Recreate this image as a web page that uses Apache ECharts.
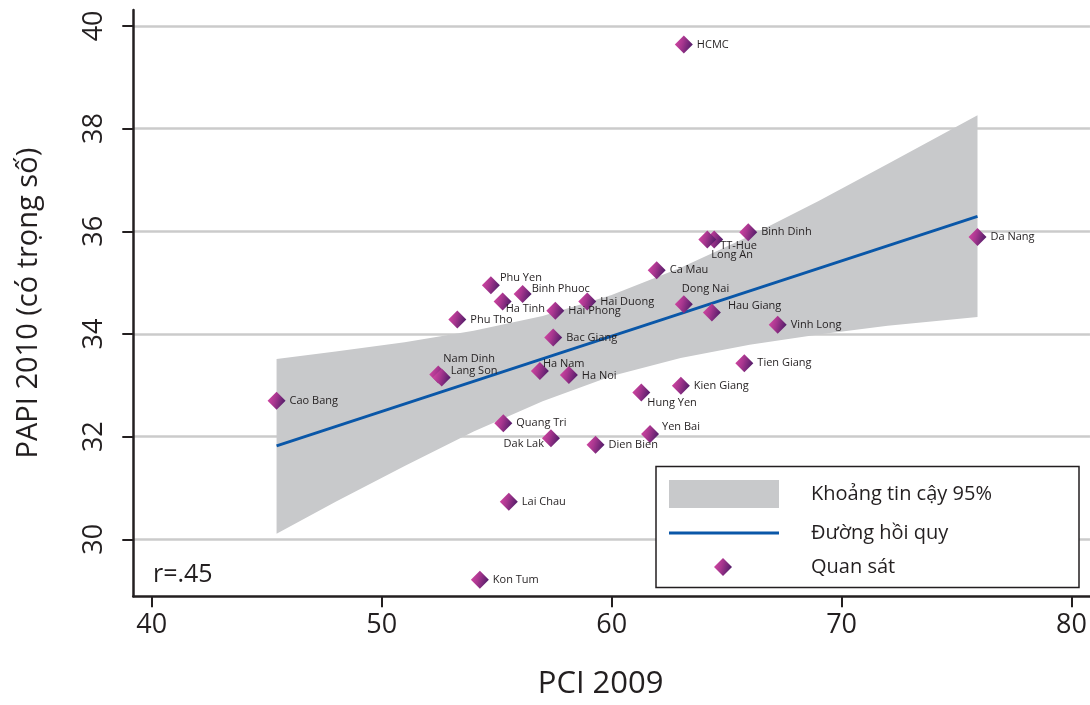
<!DOCTYPE html>
<html><head><meta charset="utf-8">
<script src="https://cdn.jsdelivr.net/npm/echarts@6/dist/echarts.min.js"></script>
<style>html,body{margin:0;padding:0;background:#fff}#c{width:1090px;height:705px}</style>
</head><body><div id="c"></div>
<script>
// ---- data ----
const provinces = ['HCMC','Binh Dinh','TT-Hue','Long An','Da Nang','Ca Mau','Dong Nai','Hau Giang','Vinh Long','Tien Giang','Kien Giang','Hung Yen','Phu Yen','Binh Phuoc','Ha Tinh','Hai Phong','Hai Duong','Phu Tho','Bac Giang','Nam Dinh','Lang Son','Ha Nam','Ha Noi','Cao Bang','Quang Tri','Dak Lak','Dien Bien','Yen Bai','Lai Chau','Kon Tum'];
const pci2009 = [63.14,65.94,64.46,64.16,75.91,61.96,63.14,64.36,67.22,65.77,63.01,61.29,54.75,56.13,55.26,57.55,58.94,53.29,57.46,52.46,52.61,56.88,58.14,45.43,55.29,57.36,59.30,61.67,55.53,54.27];
const papi2010 = [39.64,35.98,35.84,35.84,35.89,35.24,34.58,34.42,34.18,33.43,32.99,32.86,34.95,34.78,34.63,34.45,34.63,34.28,33.93,33.21,33.15,33.28,33.20,32.70,32.26,31.97,31.84,32.05,30.73,29.21];
const bandX = [45.43,48,51,54,57,60,63,66,69,72,75.91];
const bandUpper = [33.51,33.66,33.84,34.06,34.35,34.76,35.29,35.91,36.59,37.31,38.26];
const bandLower = [30.11,30.73,31.43,32.10,32.69,33.18,33.53,33.79,33.99,34.16,34.33];
const fitX = [45.43,75.91];
const fitY = [31.82,36.29];
const xTicks = [40,50,60,70,80];
const yTicks = [30,32,34,36,38,40];
const legendNames = ['Khoảng tin cậy 95%','Đường hồi quy','Quan sát'];

// ---- label placement tweaks (presentation only) ----
const labelTweaks = {
  'TT-Hue':[-7,6],'Long An':[-9,15],'Dong Nai':[-15,-15],'Hau Giang':[3,-7],'Hung Yen':[-7,10],
  'Phu Yen':[-4,-7],'Binh Phuoc':[-4,-5],'Ha Tinh':[-10,7],'Nam Dinh':[-8,-16],'Lang Son':[-4,-7],
  'Ha Nam':[-10,-7],'Yen Bai':[-1,-7],'Ha Noi':[0,1]
};
const leftLabels = {'Dak Lak':[6,6]};

const FONT = 'Open Sans';
const INK = '#231f20';
const chart = echarts.init(document.getElementById('c'), null, {renderer:'canvas'});

const diamondColor = new echarts.graphic.LinearGradient(0,0,1,0.3,[
  {offset:0,color:'#dc4aa6'},{offset:0.5,color:'#a8368f'},{offset:1,color:'#5a1f6c'}]);

const scatterData = provinces.map((n,i)=>{
  const item = {name:n, value:[pci2009[i], papi2010[i]]};
  if (labelTweaks[n]) item.label = {offset: labelTweaks[n]};
  if (leftLabels[n]) item.label = {position:'left', offset: leftLabels[n]};
  return item;
});
const bandData = bandX.map((x,i)=>[x, bandLower[i], bandUpper[i]]);

chart.setOption({
  animation:false,
  textStyle:{fontFamily:FONT},
  grid:{left:133.3, right:0, top:10, bottom:108.7, containLabel:false},
  xAxis:{
    type:'value', min:39.2, max:80.8,
    name:'PCI 2009', nameLocation:'middle', nameGap:72,
    nameTextStyle:{fontSize:31, color:INK, fontFamily:FONT, padding:[0,22,0,0]},
    axisLine:{show:true, onZero:false, lineStyle:{color:INK, width:2.5}},
    axisTick:{show:true, customValues:xTicks, length:11, lineStyle:{color:INK, width:2}},
    axisLabel:{customValues:xTicks, fontSize:27, margin:16, color:INK, fontFamily:FONT},
    splitLine:{show:false}
  },
  yAxis:{
    type:'value', min:28.89, max:40.31,
    name:'PAPI 2010 (có trọng số)', nameLocation:'middle', nameGap:90,
    nameTextStyle:{fontSize:29, color:INK, fontFamily:FONT},
    axisLine:{show:true, onZero:false, lineStyle:{color:INK, width:2.5}},
    axisTick:{show:true, customValues:yTicks, length:11, lineStyle:{color:INK, width:2}},
    axisLabel:{customValues:yTicks, rotate:90, fontSize:27, margin:25, color:INK, fontFamily:FONT},
    splitLine:{show:true, lineStyle:{color:'#cbcbcb', width:2.5}}
  },
  legend:[
    {data:[{name:legendNames[0], icon:'rect'}], left:669, top:480, padding:0, itemWidth:110, itemHeight:28, z:6,
     selectedMode:false, textStyle:{fontSize:20, color:INK, fontFamily:FONT, padding:[0,0,0,27]}},
    {data:[{name:legendNames[1], icon:'path://M0,0H110V3H0Z'}], left:669, top:523, padding:0, itemWidth:110, itemHeight:14, z:6,
     selectedMode:false, textStyle:{fontSize:20, color:INK, fontFamily:FONT, padding:[0,0,0,27]}},
    {data:[{name:legendNames[2], icon:'diamond'}], left:714, top:557, padding:0, itemWidth:18, itemHeight:18, z:6,
     selectedMode:false, textStyle:{fontSize:20, color:INK, fontFamily:FONT, padding:[0,0,0,74]}}
  ],
  graphic:[
    {type:'rect', z:5, shape:{x:656, y:466.5, width:423, height:121}, style:{fill:'#fff', stroke:INK, lineWidth:1.5}},
    {type:'text', z:5, left:153, top:562, style:{text:'r=.45', font:'25px "Open Sans"', fill:INK}}
  ],
  series:[
    {
      name:legendNames[0], type:'custom', z:1, data:bandData,
      encode:{x:0, y:[1,2]}, itemStyle:{color:'#c8c9cb'},
      renderItem:function(params, api){
        if (params.dataIndex !== 0) return null;
        const pts = [];
        for (let i=0;i<bandData.length;i++) pts.push(api.coord([bandData[i][0], bandData[i][2]]));
        for (let i=bandData.length-1;i>=0;i--) pts.push(api.coord([bandData[i][0], bandData[i][1]]));
        return {type:'polygon', shape:{points:pts}, style:{fill:'#c8c9cb'}};
      }
    },
    {
      name:legendNames[1], type:'line', z:2, symbol:'none', showSymbol:false,
      data:fitX.map((x,i)=>[x, fitY[i]]),
      lineStyle:{color:'#0a57a8', width:2.8}, itemStyle:{color:'#0a57a8'}
    },
    {
      name:legendNames[2], type:'scatter', z:3, symbol:'diamond', symbolSize:18,
      itemStyle:{color:diamondColor, opacity:1},
      label:{show:true, position:'right', distance:4, formatter:'{b}', fontSize:11, color:INK, fontFamily:FONT},
      data:scatterData
    }
  ]
});
</script></body></html>
